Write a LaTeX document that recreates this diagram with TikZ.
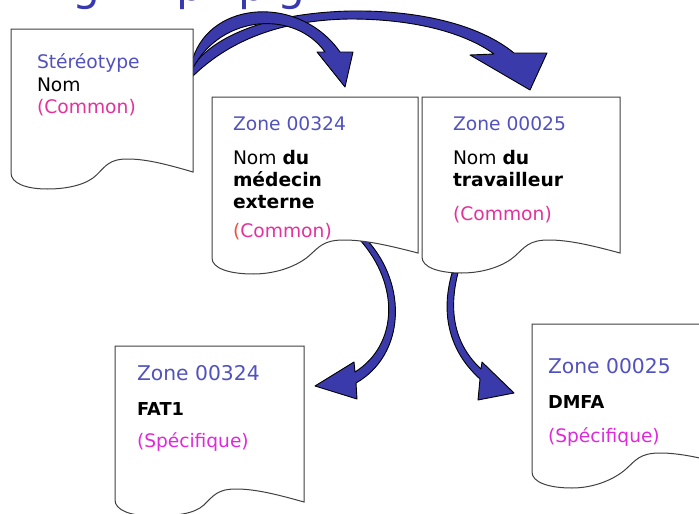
\documentclass[tikz,border=0pt]{standalone}
\usepackage{fontspec}
\setmainfont{DejaVu Sans}
\definecolor{zoneblue}{HTML}{5252BE}
\definecolor{compink}{HTML}{E4329C}
\definecolor{specmag}{HTML}{E028DC}
\definecolor{parenred}{HTML}{F0503C}
\definecolor{arrowblue}{HTML}{3A3AAA}
\definecolor{titleblue}{HTML}{3838B0}
% #1 x, #2 top y, #3 width, #4 left-bottom y, #5 right-bottom y
\newcommand\docshape[5]{%
  \draw[boxline] (#1,#4) -- (#1,#2) -- ({#1+#3},#2) -- ({#1+#3},#5)
   .. controls ({#1+0.85*#3},{#5-8}) and ({#1+0.74*#3},{#5-13}) .. ({#1+0.64*#3},{#5-13})
   .. controls ({#1+0.54*#3},{#5-13}) and ({#1+0.52*#3},{#5-6}) .. ({#1+0.47*#3},{#5+3})
   .. controls ({#1+0.42*#3},{#5+12}) and ({#1+0.32*#3},{#4+16}) .. ({#1+0.2*#3},{#4+16})
   .. controls ({#1+0.08*#3},{#4+16}) and (#1,{#4+10}) .. (#1,#4) -- cycle;}
\begin{document}
\begin{tikzpicture}[x=1pt,y=-1pt,
  boxline/.style={draw=black!75, line width=1pt, fill=white},
  blockarrow/.style={fill=arrowblue, draw=black, line width=0.9pt, line join=round},
  txt/.style={anchor=base west, inner sep=0pt, outer sep=0pt},
  uptxt/.style={txt, font=\fontsize{18.7}{22}\selectfont},
  zonelow/.style={txt, font=\fontsize{20.3}{24}\selectfont, text=zoneblue},
  boldlow/.style={txt, font=\fontsize{17.8}{22}\selectfont\bfseries},
  speclow/.style={txt, font=\fontsize{18.6}{22}\selectfont, text=specmag},
  titleglyph/.style={txt, font=\fontsize{44}{50}\selectfont, text=titleblue}]
\useasboundingbox (0,0) rectangle (699,514);
\begin{scope}
\clip (0,0) rectangle (699,514);
\fill[white] (0,0) rectangle (699,514);
% cut-off title (only descenders visible)
\node[titleglyph] (tg1) at (72,1) {g};
\node[titleglyph] (tp1) at (176,1) {p};
\node[titleglyph] (tp2) at (238,1) {p};
\node[titleglyph] (tg2) at (277,1) {g};

% named end points of the block arrows
\coordinate (a1s) at (193,58);
\coordinate (a1t) at (345,87);
\coordinate (a2s) at (193,66);
\coordinate (a2t) at (530,90);
\coordinate (a3s) at (367,240);
\coordinate (a3t) at (315,386);
\coordinate (a4s) at (452,273);
\coordinate (a4t) at (514,393);

% arrow A -> C
\filldraw[blockarrow] (a2s) .. controls (215,35) and (270,13) .. (350,11)
   .. controls (420,10) and (480,25) .. (514,53) -- (547,53) -- (a2t) -- (470,55) -- (494,54)
   .. controls (465,33) and (415,19) .. (350,19)
   .. controls (278,20) and (228,42) .. (193,76) -- cycle;
% arrow A -> B
\filldraw[blockarrow] (a1s) .. controls (212,0) and (300,-5) .. (340,52)
   -- (353,52) -- (a1t) -- (317,52) -- (325,52)
   .. controls (295,10) and (222,14) .. (193,68) -- cycle;
% arrow B -> D
\filldraw[blockarrow] (a3s) .. controls (408,285) and (405,355) .. (356,383)
   -- (357,399) -- (a3t) -- (354,362) -- (355,372)
   .. controls (398,345) and (400,285) .. (360,240) -- cycle;
% arrow C -> E
\filldraw[blockarrow] (a4s) .. controls (440,315) and (450,352) .. (480,379)
   -- (478,400) -- (a4t) -- (482,362) -- (481,369)
   .. controls (455,345) and (448,312) .. (458,273) -- cycle;

% document boxes
\docshape{11}{29}{182}{173}{172}
\docshape{212}{97}{206}{258}{253}
\docshape{422}{97}{198}{257}{253}
\docshape{115}{346}{189}{500}{502}
\docshape{532}{324}{200}{472}{466}

% box A texts
\node[uptxt, text=zoneblue] (s1) at (37,68) {Stéréotype};
\node[uptxt] (s2) at (37,91) {Nom};
\node[uptxt, text=compink] (s3) at (37,113) {(Common)};
% box B texts
\node[uptxt, text=zoneblue] (b1) at (233,130) {Zone 00324};
\node[uptxt] (b2) at (233,164) {Nom \textbf{du}};
\node[uptxt] (b3) at (233,186) {\textbf{médecin}};
\node[uptxt] (b4) at (233,208) {\textbf{externe}};
\node[uptxt, text=compink] (b5) at (233,237) {\textcolor{parenred}{(}Common)};
% box C texts
\node[uptxt, text=zoneblue] (c1) at (453,130) {Zone 00025};
\node[uptxt] (c2) at (453,164) {Nom \textbf{du}};
\node[uptxt] (c3) at (453,186) {\textbf{travailleur}};
\node[uptxt, text=compink] (c4) at (453,220) {(Common)};
% box D texts
\node[zonelow] (d1) at (137,380) {Zone 00324};
\node[boldlow] (d2) at (137,415) {FAT1};
\node[speclow] (d3) at (137,447) {(Spécifique)};
% box E texts
\node[zonelow] (e1) at (548,373) {Zone 00025};
\node[boldlow] (e2) at (548,408) {DMFA};
\node[speclow] (e3) at (548,442) {(Spécifique)};
\end{scope}
\end{tikzpicture}
\end{document}
